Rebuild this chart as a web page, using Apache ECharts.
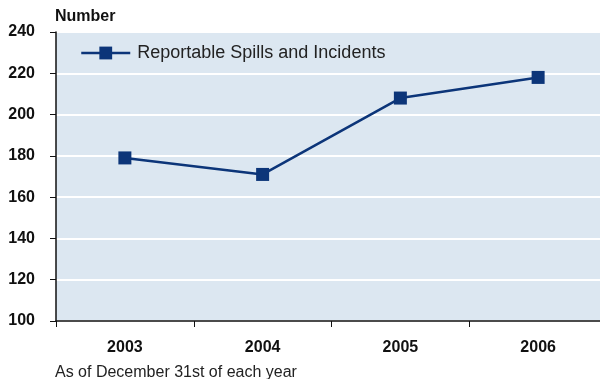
<!DOCTYPE html>
<html>
<head>
<meta charset="utf-8">
<script src="https://cdn.jsdelivr.net/npm/echarts@6/dist/echarts.min.js"></script>
<style>
  html, body { margin: 0; padding: 0; background: #fff; }
  #chart { width: 600px; height: 379px; }
</style>
</head>
<body>
<div id="chart"></div>
<script>
// data
const years = ['2003', '2004', '2005', '2006']
const spills = [179, 171, 208, 218]
const seriesName = 'Reportable Spills and Incidents'

const labelFont = '"Liberation Sans Narrow", "Liberation Sans", Arial, sans-serif'
const bodyFont = '"Liberation Sans", Arial, sans-serif'
const navy = '#0c3579'

const chart = echarts.init(document.getElementById('chart'))
chart.setOption({
    animation: false,
    grid: {
        left: 56, top: 32, width: 551, height: 289,
        outerBoundsMode: 'none',
        show: true, backgroundColor: '#dce7f1', borderWidth: 0
    },
    legend: {
        left: 80, top: 44, padding: 0,
        itemWidth: 49, itemHeight: 16,
        itemGap: 6,
        lineStyle: { width: 2.5 },
        textStyle: { fontFamily: bodyFont, fontSize: 18, color: '#222', padding: [0, 0, 0, 2] },
        data: [{ name: seriesName }]
    },
    graphic: [
        { type: 'text', left: 55, top: 9, style: { text: 'Number', font: 'bold 16px ' + bodyFont, fill: '#111' } },
        { type: 'text', left: 55, top: 365, style: { text: 'As of December 31st of each year', font: '16px ' + bodyFont, fill: '#222' } }
    ],
    xAxis: {
        type: 'category',
        data: years,
        boundaryGap: true,
        axisLine: { lineStyle: { color: '#111', width: 1.5 } },
        axisTick: { show: true, length: 6, lineStyle: { color: '#111' } },
        axisLabel: { margin: 19, fontFamily: labelFont, fontWeight: 'bold', fontSize: 16, color: '#111' }
    },
    yAxis: {
        type: 'value',
        min: 100, max: 240, interval: 20,
        axisLine: { show: true, lineStyle: { color: '#111', width: 1.5 } },
        axisTick: { show: true, length: 6, lineStyle: { color: '#111' } },
        axisLabel: { margin: 21, fontFamily: labelFont, fontWeight: 'bold', fontSize: 16, color: '#111' },
        splitLine: { lineStyle: { color: '#ffffff', width: 2 } }
    },
    series: [{
        name: seriesName,
        type: 'line',
        data: spills,
        symbol: 'rect',
        symbolSize: 13,
        itemStyle: { color: navy },
        lineStyle: { color: navy, width: 2.5 }
    }]
})
</script>
</body>
</html>
